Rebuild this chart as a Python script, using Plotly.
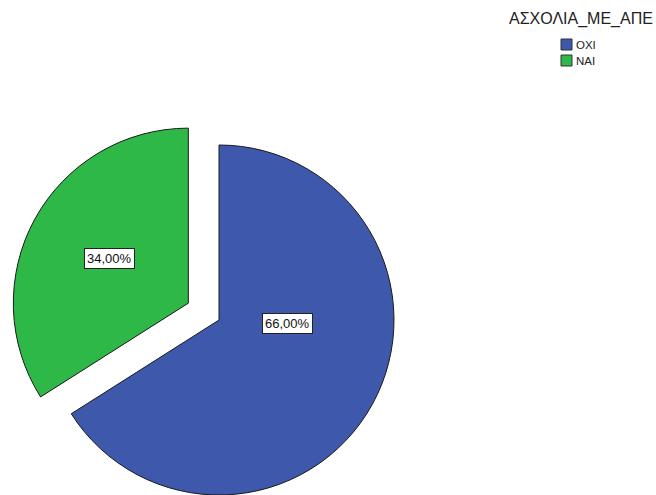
import math
import plotly.graph_objects as go

# Data
categories = ["ΟΧΙ", "ΝΑΙ"]
percents = [66.0, 34.0]
colors = ["#3E58AC", "#2EB848"]
legend_title = "ΑΣΧΟΛΙΑ_ΜΕ_ΑΠΕ"

W, H = 656, 495
FONT = "Liberation Sans, Arial, sans-serif"

# pie geometry in pixels
cx, cy, r = 219.0, 320.0, 175.0
pull = 0.2  # exploded slice offset, as a fraction of the radius
exploded = 1  # index of the pulled-out slice


def px_x(x):
    return x / W


def px_y(y):
    return 1 - y / H


def domain_for(center_x, center_y):
    return dict(
        x=[px_x(center_x - r), px_x(center_x + r)],
        y=[px_y(center_y + r), px_y(center_y - r)],
    )


# offset of the exploded slice along its bisector (clockwise from 12 o'clock)
total = sum(percents)
start = sum(percents[:exploded])
mid_angle = math.radians(360 * (start + percents[exploded] / 2) / total)
ex_cx = cx + pull * r * math.sin(mid_angle)
ex_cy = cy - pull * r * math.cos(mid_angle)

fig = go.Figure()


def slice_trace(visible_idx, center_x, center_y):
    cols = [c if i == visible_idx else "rgba(0,0,0,0)" for i, c in enumerate(colors)]
    widths = [1 if i == visible_idx else 0 for i in range(len(colors))]
    return go.Pie(
        labels=categories,
        values=percents,
        sort=False,
        direction="clockwise",
        rotation=0,
        marker=dict(colors=cols, line=dict(color="#1a1a1a", width=widths)),
        textinfo="none",
        hoverinfo="skip",
        showlegend=False,
        domain=domain_for(center_x, center_y),
    )


fig.add_trace(slice_trace(0, cx, cy))
fig.add_trace(slice_trace(1, ex_cx, ex_cy))

# percentage labels in boxes
label_pos = [(287.5, 323.0), (109.7, 258.7)]
annotations = []
for v, (lx, ly) in zip(percents, label_pos):
    annotations.append(dict(
        x=px_x(lx), y=px_y(ly), xref="paper", yref="paper",
        text=f"{v:.2f}%".replace(".", ","),
        showarrow=False, xanchor="center", yanchor="middle",
        font=dict(family=FONT, size=13, color="#111111"),
        bgcolor="white", bordercolor="#222222", borderwidth=1, borderpad=2,
    ))

# legend
annotations.append(dict(
    x=px_x(581), y=px_y(19), xref="paper", yref="paper",
    text=legend_title, showarrow=False, xanchor="center", yanchor="middle",
    font=dict(family=FONT, size=16, color="#222222"),
))
shapes = []
for i, (cat, col) in enumerate(zip(categories, colors)):
    top = 39 + 16 * i
    shapes.append(dict(
        type="rect", xref="paper", yref="paper",
        x0=px_x(561), x1=px_x(572), y0=px_y(top + 11), y1=px_y(top),
        fillcolor=col, line=dict(color="#333333", width=1),
    ))
    annotations.append(dict(
        x=px_x(574), y=px_y(top + 5.5), xref="paper", yref="paper",
        text=cat, showarrow=False, xanchor="left", yanchor="middle",
        font=dict(family=FONT, size=11.5, color="#222222"),
    ))

fig.update_layout(
    width=W, height=H,
    margin=dict(l=0, r=0, t=0, b=0),
    paper_bgcolor="white", plot_bgcolor="white",
    showlegend=False,
    annotations=annotations,
    shapes=shapes,
)

fig.write_html("out.html")
